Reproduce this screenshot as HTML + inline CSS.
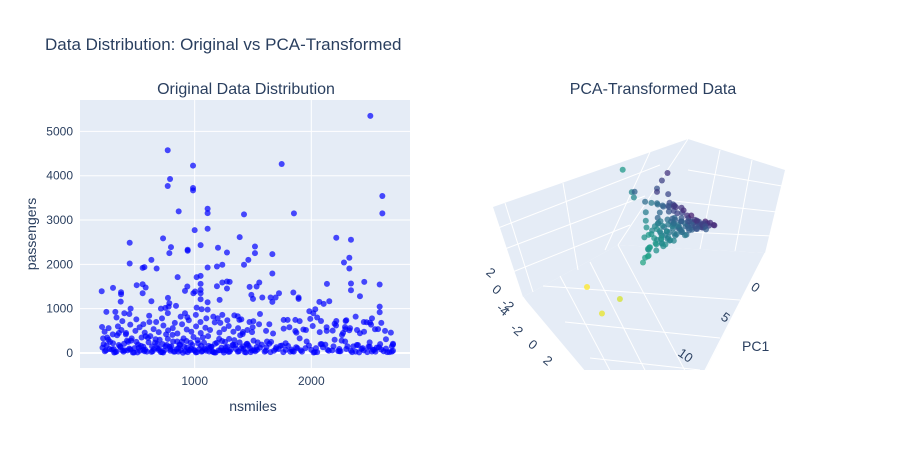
<!DOCTYPE html>
<html><head><meta charset="utf-8">
<style>
body{margin:0;background:#fff;}
svg{font-family:"Liberation Sans",Arial,sans-serif;}
</style></head>
<body>
<svg id="chart" width="900" height="450" viewBox="0 0 900 450">
<text x="45" y="50" font-size="17" fill="#2a3f5f">Data Distribution: Original vs PCA-Transformed</text>
<text x="246" y="94" font-size="16" fill="#2a3f5f" text-anchor="middle">Original Data Distribution</text>
<text x="653" y="94" font-size="16" fill="#2a3f5f" text-anchor="middle">PCA-Transformed Data</text>
<rect x="80" y="100" width="330" height="268" fill="#e5ecf6"/>
<g id="lgrid"></g>
<g id="lpts"></g>
<g id="lticks" font-size="12" fill="#2a3f5f"></g>
<text x="253" y="411" font-size="14" fill="#2a3f5f" text-anchor="middle">nsmiles</text>
<text x="0" y="0" font-size="14" fill="#2a3f5f" text-anchor="middle" transform="translate(36,234) rotate(-90)">passengers</text>
<defs><clipPath id="sc"><rect x="470" y="100" width="360" height="270"/></clipPath></defs>
<g clip-path="url(#sc)">
<polygon points="493,207 688,139 618,245 523,297" fill="#e5ecf6"/>
<polygon points="688,139 785,170 765,253 618,245" fill="#e5ecf6"/>
<polygon points="523,297 618,245 765,253 660,460" fill="#e5ecf6"/>
<g stroke="#fff" stroke-width="1" fill="none">
<line x1="505" y1="203" x2="533" y2="292"/><line x1="563" y1="183" x2="578" y2="270"/>
<line x1="650" y1="152" x2="605" y2="250"/>
<line x1="493" y1="230" x2="660" y2="165"/><line x1="497" y1="252" x2="645" y2="196"/><line x1="505" y1="275" x2="630" y2="225"/>
<line x1="688" y1="139" x2="618" y2="245"/>
<line x1="720" y1="150" x2="700" y2="249"/><line x1="752" y1="160" x2="735" y2="251"/>
<line x1="688" y1="170" x2="782" y2="186"/><line x1="665" y1="200" x2="777" y2="212"/><line x1="645" y1="230" x2="772" y2="236"/>
<line x1="543" y1="286" x2="740" y2="300"/><line x1="565" y1="322" x2="720" y2="338"/><line x1="590" y1="358" x2="700" y2="370"/>
<line x1="560" y1="276" x2="615" y2="380"/><line x1="590" y1="262" x2="650" y2="380"/><line x1="618" y1="245" x2="690" y2="380"/>
<line x1="523" y1="297" x2="580" y2="380"/><line x1="765" y1="253" x2="700" y2="380"/>
</g>
<g id="pts3"></g>
</g>
<g font-size="13" fill="#2a3f5f">
<text transform="translate(753,291) rotate(35)" text-anchor="middle">0</text>
<text transform="translate(723,321) rotate(35)" text-anchor="middle">5</text>
<text transform="translate(683,359) rotate(35)" text-anchor="middle">10</text>
<text transform="translate(488,276) rotate(40)" text-anchor="middle">2</text>
<text transform="translate(494,293) rotate(40)" text-anchor="middle">0</text>
<text transform="translate(505,308) rotate(40)" text-anchor="middle">-2</text>
<text transform="translate(500,313) rotate(40)" text-anchor="middle">-4</text>
<text transform="translate(514,333) rotate(40)" text-anchor="middle">-2</text>
<text transform="translate(530,348) rotate(40)" text-anchor="middle">0</text>
<text transform="translate(545,364) rotate(40)" text-anchor="middle">2</text>
</g>
<text x="742" y="351" font-size="14" fill="#2a3f5f">PC1</text>
</svg>
<script>
const NS="http://www.w3.org/2000/svg";
// left chart data
const xTicks=[1000,2000];
const yTicks=[0,1000,2000,3000,4000,5000];
const nsmiles=[2506,769,986,789,769,986,986,1746,2609,2609,1851,863,1111,1111,1423,1000,1111,1386,729,2214,2340,443,797,783,940,940,1051,1200,1277,1517,1517,1666,2326,2280,2326,443,554,569,674,629,1111,1191,1237,1423,1460,854,1017,1051,1666,2454,2586,2134,2340,2340,203,300,503,554,580,369,369,366,937,917,1003,989,1051,1051,1051,1051,1191,1237,1277,1300,1277,1471,1486,1500,1531,1554,1580,1651,1694,1723,1666,1846,1891,1891,2417,2586,2586,2069,2106,2154,2034,1983,2017,2214,2294,2474,2503,206,243,320,397,451,554,629,711,749,777,771,783,840,917,937,1017,1060,1111,1111,1214,1237,1197,1369,1383,1414,1503,1497,1763,1797,1863,1763,1863,1991,1954,2083,2131,2183,2263,2289,2291,2326,2417,2546,
210,230,260,290,320,350,380,410,440,470,500,530,560,590,620,650,680,710,740,770,800,830,860,890,920,950,980,1010,1040,1070,1100,1130,1160,1190,1220,1250,1280,1310,1340,1370,1400,1430,1460,1490,1520,1560,1600,1640,1680,1720,1760,1800,1840,1880,1920,1960,2000,2050,2100,2150,2200,2250,2300,2350,2400,2450,2500,2550,2600,2650,2700,2700,
220,270,330,360,400,430,480,520,560,600,640,680,720,760,790,820,850,880,910,940,970,1000,1030,1060,1090,1120,1150,1180,1230,1270,1300,1350,1420,1480,1540,1610,1700,1780,1850,1950,2030,2120,2180,2240,2310,2380,2430,2480,2530,2580,2620,2690,
250,300,350,420,460,540,580,660,700,750,810,870,930,990,1080,1140,1210,1260,1330,1390,1450,1530,1620,1750,1900,2080,2260,2360,2500,2560,2640,2700,
240,310,390,450,510,570,630,690,730,790,860,900,960,1020,1065,1125,1170,1245,1290,1380,1440,1510,1650,1820,2020,2230,2410,2520,2670,
215,245,275,305,335,365,395,425,455,485,515,545,575,605,635,665,695,725,755,785,815,845,875,905,935,965,995,1025,1055,1085,1115,1145,1175,1205,1235,1265,1295,1325,1355,1385,1415,1445,1475,1505,1535,1575,1615,1655,1695,1735,1780,1830,1870,1910,1980,2040,2090,2140,2190,2240,2290,2340,2390,2440,2490,2540,2590,2640,2690,
228,262,298,342,372,412,448,492,528,572,612,648,692,732,772,812,852,892,932,972,1012,1052,1092,1132,1172,1212,1252,1292,1332,1372,1412,1452,1492,1552,1612,1672,1812,1872,1932,2012,2072,2132,2212,2272,2332,2392,2452,2512,2572,2632,2682,
330,380,440,500,560,610,670,720,770,830,880,950,1010,1050,1100,1160,1220,1280,1340,1400,1470,1560,1640,1900,2050,2200,2300,2380,2450,2520,2600];
const passengers=[5350,4574,4228,3926,3768,3723,3670,4265,3542,3150,3150,3195,3255,3157,3127,2773,2803,2615,2585,2600,2555,2487,2389,2253,2329,2306,2434,2374,2268,2404,2253,2231,2148,2042,1907,2020,1922,1937,1907,2102,1929,1952,1990,1990,2102,1711,1711,1741,1794,1605,1545,1560,1568,1417,1394,1470,1530,1552,1477,1372,1326,1160,1500,1402,1387,1349,1560,1424,1349,1213,1507,1590,1613,1605,1454,1492,1311,1221,1500,1590,1251,1251,1251,1349,1153,1364,1251,1221,1281,1047,919,1153,1108,1168,987,942,897,723,723,693,686,588,927,927,897,1002,1349,1168,1002,1017,1047,1243,1123,1063,897,806,1025,987,980,1145,1198,859,784,829,746,475,716,580,746,746,746,550,497,769,520,723,580,505,407,588,535,512,445,535,
120,40,300,80,20,180,60,420,100,10,250,50,140,30,380,90,200,20,60,320,150,30,110,260,40,70,180,15,90,350,50,120,20,230,60,10,140,80,290,30,110,20,170,60,40,120,30,210,50,90,20,160,40,110,30,260,70,20,130,50,300,40,90,20,180,60,140,30,80,20,210,50,
200,90,30,150,60,250,10,120,70,340,40,110,20,180,90,30,260,60,140,20,100,50,220,30,80,160,40,10,120,60,30,180,90,20,240,50,130,70,30,110,20,190,60,40,150,30,90,20,70,130,40,30,
350,220,450,280,330,160,380,230,300,150,410,190,270,360,230,140,320,250,180,400,210,130,260,170,330,200,280,150,240,120,310,190,
60,10,30,80,15,40,25,70,10,50,30,5,60,20,45,35,10,55,25,40,15,65,20,30,10,45,15,35,20,
330,170,250,90,400,130,210,60,280,110,190,350,75,240,150,310,95,200,420,140,260,85,180,330,120,230,70,290,160,100,380,140,210,60,270,120,320,180,90,240,150,200,110,280,70,190,130,250,90,160,220,80,130,60,170,110,200,70,150,90,260,50,180,110,140,70,200,100,150,
480,560,420,600,520,450,640,500,580,460,700,540,470,620,510,560,440,650,530,480,600,450,570,520,690,460,540,610,480,560,430,520,470,650,500,440,580,460,530,610,470,500,620,450,560,520,480,640,540,500,460,
800,720,880,760,650,840,700,780,900,680,820,740,860,700,780,820,680,740,850,760,700,880,650,720,800,660,740,820,700,780,680];
function xs(v){return 80+(v-17)/(2846-17)*330;}
function ys(v){return 353-v*0.04432;}
const lg=document.getElementById('lgrid');
for(const t of yTicks){const l=document.createElementNS(NS,'line');l.setAttribute('x1',80);l.setAttribute('x2',410);l.setAttribute('y1',ys(t));l.setAttribute('y2',ys(t));l.setAttribute('stroke','#fff');l.setAttribute('stroke-width',t===0?2:1);


lg.appendChild(l);}
for(const t of xTicks){const l=document.createElementNS(NS,'line');l.setAttribute('y1',100);l.setAttribute('y2',368);l.setAttribute('x1',xs(t));l.setAttribute('x2',xs(t));l.setAttribute('stroke','#fff');


lg.appendChild(l);}
const lt=document.getElementById('lticks');
for(const t of yTicks){const e=document.createElementNS(NS,'text');e.setAttribute('x',73);e.setAttribute('y',ys(t)+4);e.setAttribute('text-anchor','end');e.textContent=t;


lt.appendChild(e);}
for(const t of xTicks){const e=document.createElementNS(NS,'text');e.setAttribute('x',xs(t));e.setAttribute('y',385);e.setAttribute('text-anchor','middle');e.textContent=t;


lt.appendChild(e);}
const lp=document.getElementById('lpts');
const nPts=Math.min(nsmiles.length,passengers.length);
for(let i=0;i<nPts;i++){const c=document.createElementNS(NS,'circle');c.setAttribute('cx',xs(nsmiles[i]));c.setAttribute('cy',ys(passengers[i]));c.setAttribute('r',3);c.setAttribute('fill','rgba(0,0,255,0.7)');


lp.appendChild(c);}
// 3D data
const pc1=[12,10.5,11.2,3.5,2.6,2.7,1.2,0.3,0.5,0.8,0.4,0.6,1.5,2.2,2.8,3.1,3.4,3.6,3.2,2.6,2.0,1.6,1.0,0.5,0.2,0.1,0.3,0.6,1.1,1.8,2.4,2.9,3.3,1.4,0.9,0.7,1.3,2.1,2.5,1.7,0.4,0.2,0.8,1.2,1.9,2.7,3.0,0.5,0.6,0.3,1.0,1.5,2.3,0.9,0.4,0.7,1.1,0.2,0.5,1.6,2.0,2.6,3.5,3.8,3.2,0.3,0.6,1.0,1.4,0.8,0.1,0.2,0.4,0.9,1.2,1.8,2.2,0.6,0.3,
3.0,3.3,3.6,2.8,2.5,2.2,1.9,1.6,1.3,1.0,0.7,0.4,0.2,3.1,2.7,2.3,1.9,1.5,1.1,0.7,0.3,2.9,2.4,2.0,1.6,1.2,0.8,0.5,3.4,3.0,2.6,2.2,1.8,1.4,1.0,0.6,2.5,2.1,1.7,1.3,0.9,0.5,3.2,2.8,2.4,2.0,1.6,1.2,0.8,0.4,1.5,1.1,0.7,0.3,2.0,1.6,1.2,0.8,0.4,0.2,0.1,0.3,0.5,0.7,1.0,3.7,3.9,4.2];
const pc2=[3.5,1.9,2.83,5.2,5.0,4.8,5.5,3.6,3.9,4.1,4.3,3.4,4.6,4.2,3.9,3.7,3.0,3.3,2.6,3.0,3.4,3.2,2.8,2.5,1.8,0.4,1.2,2.0,2.4,2.2,2.5,2.7,2.9,3.6,3.2,3.0,3.8,3.4,3.6,2.0,1.5,0.8,1.6,1.4,1.8,2.2,2.4,2.8,3.3,2.6,2.9,2.6,3.1,1.2,0.6,1.0,0.9,0.3,0.9,1.6,1.5,2.0,3.4,3.2,3.8,2.2,2.4,2.7,2.3,1.9,1.0,1.5,2.0,2.3,2.9,2.7,2.8,3.0,3.1,
3.6,3.4,3.2,3.1,2.9,2.7,2.4,2.1,1.8,1.5,1.2,0.9,0.6,3.0,2.8,2.6,2.3,2.0,1.7,1.4,1.1,2.6,2.4,2.2,1.9,1.6,1.3,1.0,2.9,2.7,2.5,2.3,2.1,1.8,1.5,1.2,3.4,3.2,2.9,2.6,2.3,2.0,3.3,3.1,2.9,2.7,2.5,2.2,1.9,1.6,3.7,3.5,3.3,3.0,3.9,3.7,3.5,3.3,3.1,2.5,2.0,1.5,1.0,0.7,0.5,3.5,3.2,3.4];
const pc3=[1.47,0.0,-0.4,5.2,3.6,3.3,3.2,3.6,3.3,3.0,2.7,2.5,2.6,2.2,1.9,1.6,1.0,1.3,0.8,1.1,1.4,1.0,0.9,0.8,0.5,0.1,0.3,0.5,0.6,0.5,0.6,0.5,0.6,1.8,1.6,1.9,1.5,1.4,1.2,0.7,0.6,0.3,0.4,0.4,0.6,0.5,0.4,1.3,2.0,1.5,1.2,1.0,0.9,0.3,0.2,0.3,0.5,0.1,0.2,0.3,0.4,0.4,0.5,0.2,1.1,1.0,1.3,1.1,0.8,0.6,0.4,0.5,0.7,0.9,1.1,0.7,0.7,1.5,1.7,
0.3,0.5,0.6,0.7,0.8,0.9,0.9,0.8,0.7,0.6,0.5,0.4,0.3,0.2,0.4,0.5,0.6,0.6,0.5,0.4,0.3,0.3,0.4,0.5,0.5,0.4,0.3,0.2,0.7,0.8,1.0,1.1,1.0,0.9,0.8,0.6,1.4,1.5,1.4,1.3,1.1,0.9,1.2,1.3,1.3,1.2,1.1,1.0,0.8,0.7,2.3,2.0,1.8,1.6,2.6,2.4,2.1,1.9,1.7,1.3,0.9,0.6,0.4,0.3,0.2,0.1,0.2,0.0];
const vir=[[68,1,84],[72,40,120],[62,74,137],[49,104,142],[38,130,142],[31,158,137],[53,183,121],[109,205,89],[180,222,44],[253,231,37]];
function col(v){let t=Math.sqrt(Math.max(0,Math.min(1,v/12)))*9;const i=Math.min(8,Math.floor(t)),f=t-i;const a=vir[i],b=vir[i+1];return 'rgba('+a.map((x,k)=>Math.round(x+(b[k]-x)*f)).join(',')+',0.75)';}
function px(a,b,c){return 720-7*a-14*b;}
function py(a,b,c){return 225+6.5*a+3*b-18*c;}
const g3=document.getElementById('pts3');
const n3=Math.min(pc1.length,pc2.length,pc3.length);
for(let i=0;i<n3;i++){const c=document.createElementNS(NS,'circle');c.setAttribute('cx',px(pc1[i],pc2[i],pc3[i]));c.setAttribute('cy',py(pc1[i],pc2[i],pc3[i]));c.setAttribute('r',3);c.setAttribute('fill',col(pc1[i]));


g3.appendChild(c);}
</script>
</body></html>
